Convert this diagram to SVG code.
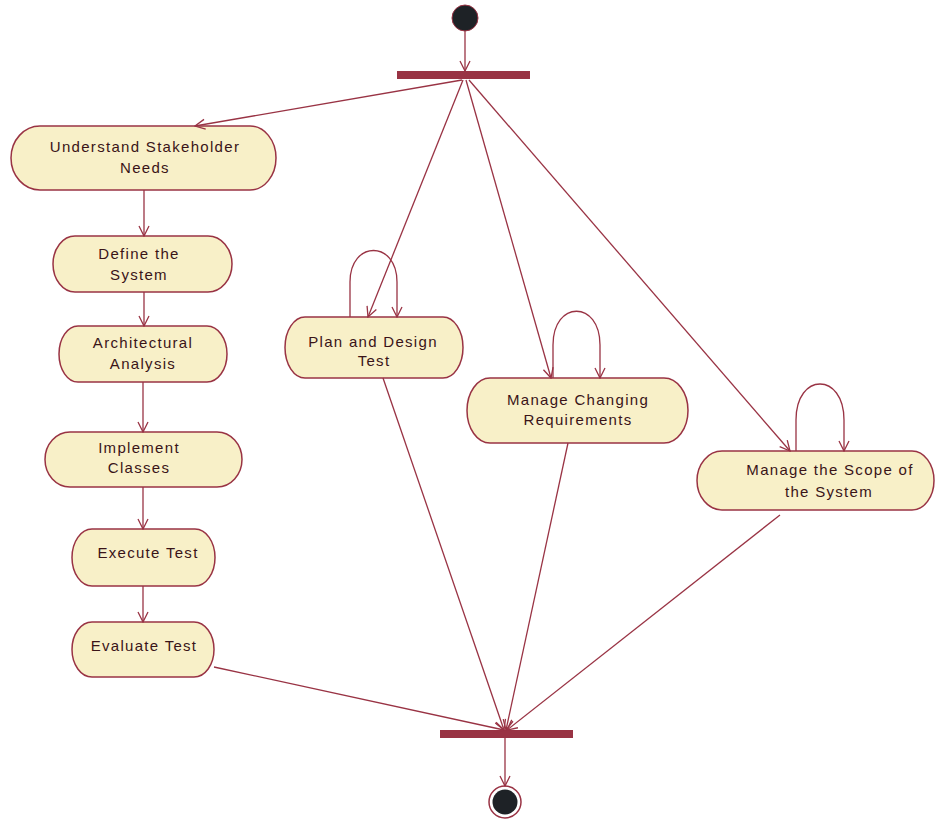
<svg xmlns="http://www.w3.org/2000/svg" width="935" height="824" viewBox="0 0 935 824">
<defs>
<marker id="arr" viewBox="0 0 12 12" refX="11" refY="6" markerWidth="12" markerHeight="12" markerUnits="userSpaceOnUse" orient="auto">
<path d="M1,1 L11,6 L1,11" fill="none" stroke="#993344" stroke-width="1.3"/>
</marker>
</defs>
<style>
.n{fill:#f8f0c8;stroke:#993344;stroke-width:1.5}
.t{font-family:"Liberation Sans",Arial,sans-serif;font-size:15px;fill:#3a1418;text-anchor:middle;letter-spacing:1.3px}
.c{fill:none;stroke:#993344;stroke-width:1.3;marker-end:url(#arr)}
.bar{fill:#993344}
</style>
<rect width="935" height="824" fill="#ffffff"/>
<g id="start"><circle cx="465" cy="18" r="13" fill="#1e2226" stroke="#993344" stroke-width="1"/></g>
<g id="forkBar"><rect class="bar" x="397" y="71" width="133" height="8"/></g>
<g id="joinBar"><rect class="bar" x="440" y="730" width="133" height="8"/></g>
<g id="end"><circle cx="505" cy="802" r="16" fill="#ffffff" stroke="#993344" stroke-width="1.5"/><circle cx="505" cy="802" r="12.5" fill="#1e2226"/></g>

<g id="n1"><path class="n" d="M40,126 H250 A26,32 0 0 1 250,190 H40 A29,32 0 0 1 40,126 Z"/><text class="t" x="145" y="152">Understand Stakeholder</text><text class="t" x="145" y="173">Needs</text></g>
<g id="n2"><path class="n" d="M75,236 H208 A24,28 0 0 1 208,292 H75 A22,28 0 0 1 75,236 Z"/><text class="t" x="139" y="259">Define the</text><text class="t" x="139" y="280">System</text></g>
<g id="n3"><path class="n" d="M78,326 H207 A20,28 0 0 1 207,382 H78 A19,28 0 0 1 78,326 Z"/><text class="t" x="143" y="348">Architectural</text><text class="t" x="143" y="369">Analysis</text></g>
<g id="n4"><path class="n" d="M70,432 H217 A25,27.5 0 0 1 217,487 H70 A25,27.5 0 0 1 70,432 Z"/><text class="t" x="139" y="453">Implement</text><text class="t" x="139" y="473">Classes</text></g>
<g id="n5"><path class="n" d="M92,529 H195 A20,28.5 0 0 1 195,586 H92 A20,28.5 0 0 1 92,529 Z"/><text class="t" x="148" y="558">Execute Test</text></g>
<g id="n6"><path class="n" d="M92,622 H194 A20,27.5 0 0 1 194,677 H92 A20,27.5 0 0 1 92,622 Z"/><text class="t" x="144" y="651">Evaluate Test</text></g>
<g id="n7"><path class="n" d="M305,317 H443 A20,30.5 0 0 1 443,378 H305 A20,30.5 0 0 1 305,317 Z"/><text class="t" x="373" y="347">Plan and Design</text><text class="t" x="374" y="366">Test</text></g>
<g id="n8"><path class="n" d="M490,378 H664 A24,32.5 0 0 1 664,443 H490 A23,32.5 0 0 1 490,378 Z"/><text class="t" x="578" y="405">Manage Changing</text><text class="t" x="578" y="425">Requirements</text></g>
<g id="n9"><path class="n" d="M722,451 H912 A22,29.5 0 0 1 912,510 H722 A25,29.5 0 0 1 722,451 Z"/><text class="t" x="830" y="475">Manage the Scope of</text><text class="t" x="829" y="497">the System</text></g>

<g id="connectors">
<path class="c" d="M465,31 V71"/>
<path class="c" d="M462,80 L195,126"/>
<path class="c" d="M144,190 V236"/>
<path class="c" d="M144,292 V326"/>
<path class="c" d="M143,382 V432"/>
<path class="c" d="M143,487 V529"/>
<path class="c" d="M143,586 V622"/>
<path class="c" d="M463,80 L368,317"/>
<path class="c" d="M350,317 V282 C350,240 397,240 397,282 V317"/>
<path class="c" d="M466,80 L551,378"/>
<path class="c" d="M553,378 V345 C553,300 600,300 600,345 V378"/>
<path class="c" d="M469,80 L790,451"/>
<path class="c" d="M796,451 V420 C796,372 844,372 844,420 V451"/>
<path class="c" d="M214,667 L504,730"/>
<path class="c" d="M383,378 L504,730"/>
<path class="c" d="M568,443 L506,730"/>
<path class="c" d="M780,515 L507,730"/>
<path class="c" d="M505,738 V786"/>
</g>
</svg>
